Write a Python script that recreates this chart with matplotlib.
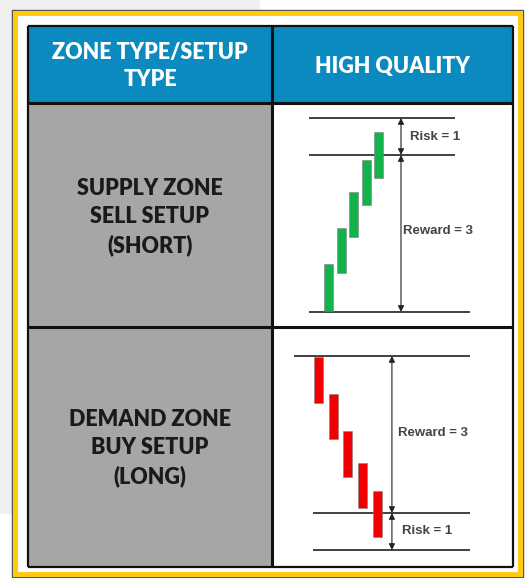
"""
Supply / demand zone setup table with risk:reward candlestick sketches.
Saves out.png (528x578).
"""

import matplotlib.pyplot as plt
from matplotlib.patches import Rectangle

# ---- table text ----
HEADER_LEFT = "ZONE TYPE/SETUP\nTYPE"
HEADER_RIGHT = "HIGH QUALITY"
ROW_LABELS = ["SUPPLY ZONE\nSELL SETUP\n(SHORT)", "DEMAND ZONE\nBUY SETUP\n(LONG)"]

# ---- supply (short) sketch: price levels and candles (open, close) ----
SUPPLY_STOP = 19.4
SUPPLY_ENTRY = 15.7
SUPPLY_TARGET = 0.0
SUPPLY_OPEN = [0.1, 3.9, 7.5, 10.7, 13.4]
SUPPLY_CLOSE = [4.8, 8.4, 12.0, 15.2, 18.0]

# ---- demand (long) sketch ----
DEMAND_TARGET = 19.4
DEMAND_ENTRY = 3.7
DEMAND_STOP = 0.0
DEMAND_OPEN = [19.3, 15.6, 11.9, 8.7, 5.9]
DEMAND_CLOSE = [14.7, 11.1, 7.3, 4.2, 1.3]

RISK_LABEL = "Risk = 1"
REWARD_LABEL = "Reward = 3"

W, H = 528, 578
BLUE = "#0A8ABF"
GRAY = "#A6A6A6"
YELLOW = "#FFC90E"
GREEN = "#13B24B"
RED = "#F00000"
HEAD_FONT = "Lato"
SMALL_FONT = "Liberation Sans"

fig = plt.figure(figsize=(W / 100, H / 100), dpi=100)
fig.patch.set_facecolor("white")

# base axes in pixel coordinates for the table frame
base = fig.add_axes([0, 0, 1, 1])
base.set_xlim(0, W)
base.set_ylim(H, 0)
base.axis("off")

# faint backdrop outside the frame
base.add_patch(Rectangle((0, 0), 260, 24, facecolor="#EFEFEF", edgecolor="none"))
base.add_patch(Rectangle((0, 24), 12, 490, facecolor="#EFEFEF", edgecolor="none"))

# yellow outer frame
base.add_patch(Rectangle((12, 10), 511, 567, facecolor="white", edgecolor="#555555", lw=1))
base.add_patch(Rectangle((15, 13), 505, 561, facecolor="none", edgecolor=YELLOW, lw=3.5))

# table cells
x0, xm, x1 = 28, 272, 513
y0, yh, ym, y1 = 26, 103, 327, 567
base.add_patch(Rectangle((x0, y0), x1 - x0, yh - y0, facecolor=BLUE, edgecolor="none"))
base.add_patch(Rectangle((x0, yh), xm - x0, y1 - yh, facecolor=GRAY, edgecolor="none"))
base.add_patch(Rectangle((xm, yh), x1 - xm, y1 - yh, facecolor="white", edgecolor="none"))
for yy in (y0, yh, ym, y1):
    base.plot([x0, x1], [yy, yy], color="#111111", lw=1.6 if yy in (y0, y1) else 2.2,
              solid_capstyle="butt")
for xx in (x0, xm, x1):
    base.plot([xx, xx], [y0, y1], color="#111111", lw=1.6 if xx != xm else 2.2,
              solid_capstyle="butt")

# text
head = dict(ha="center", va="center", fontsize=15.5, fontweight="heavy", family=HEAD_FONT)
base.text((x0 + xm) / 2, 66, HEADER_LEFT, color="white", linespacing=1.3, **head)
base.text((xm + x1) / 2, 67, HEADER_RIGHT, color="white", **head)
base.text((x0 + xm) / 2, 217, ROW_LABELS[0], color="#1A1A1A", linespacing=1.4, **head)
base.text((x0 + xm) / 2, 448, ROW_LABELS[1], color="#1A1A1A", linespacing=1.4, **head)


def sketch_axes(px_left, px_top, px_right, px_bottom, xlim, ylim):
    ax = fig.add_axes([px_left / W, 1 - px_bottom / H,
                       (px_right - px_left) / W, (px_bottom - px_top) / H])
    ax.set_xlim(*xlim)
    ax.set_ylim(*ylim)
    ax.axis("off")
    ax.patch.set_alpha(0)
    return ax


def span_arrow(ax, x, ya, yb):
    ax.annotate("", xy=(x, ya), xytext=(x, yb),
                arrowprops=dict(arrowstyle="<|-|>", color="#222222", lw=0.8,
                                mutation_scale=9, shrinkA=0, shrinkB=0))


def candles(ax, opens, closes, width, color):
    idx = list(range(len(opens)))
    bottoms = [min(o, c) for o, c in zip(opens, closes)]
    heights = [abs(c - o) for o, c in zip(opens, closes)]
    ax.bar(idx, heights, bottom=bottoms, width=width, color=color,
           edgecolor="#7F7F7F", lw=0.4, zorder=3)


small = dict(fontsize=9.5, fontweight="bold", family=SMALL_FONT, color="#444444", va="center")

# supply sketch
ax = sketch_axes(290, 110, 490, 320, (-3.08, 12.92), (-0.8, 20.2))
ax.hlines([SUPPLY_STOP, SUPPLY_ENTRY], -1.56, 10.12, color="#333333", lw=1.3)
ax.hlines(SUPPLY_TARGET, -1.56, 11.32, color="#333333", lw=1.3)
candles(ax, SUPPLY_OPEN, SUPPLY_CLOSE, 0.72, GREEN)
span_arrow(ax, 5.8, SUPPLY_STOP, SUPPLY_ENTRY)
span_arrow(ax, 5.8, SUPPLY_ENTRY, SUPPLY_TARGET)
ax.text(6.52, (SUPPLY_STOP + SUPPLY_ENTRY) / 2, RISK_LABEL, **small)
ax.text(5.96, 8.1, REWARD_LABEL, **small)

# demand sketch
ax = sketch_axes(290, 345, 490, 560, (-1.93, 11.63), (-1.0, 20.5))
ax.hlines(DEMAND_TARGET, -1.66, 10.27, color="#333333", lw=1.3)
ax.hlines([DEMAND_ENTRY, DEMAND_STOP], -0.37, 10.27, color="#333333", lw=1.3)
candles(ax, DEMAND_OPEN, DEMAND_CLOSE, 0.61, RED)
span_arrow(ax, 4.98, DEMAND_TARGET, DEMAND_ENTRY)
span_arrow(ax, 4.98, DEMAND_ENTRY, DEMAND_STOP)
ax.text(5.39, 11.7, REWARD_LABEL, **small)
ax.text(5.66, (DEMAND_ENTRY + DEMAND_STOP) / 2, RISK_LABEL, **small)

fig.savefig("out.png", dpi=100)
